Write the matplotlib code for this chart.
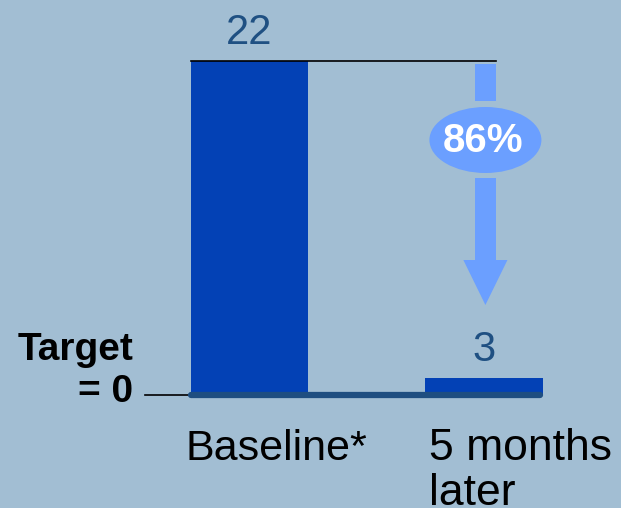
import matplotlib
matplotlib.use("Agg")
import matplotlib.pyplot as plt
from matplotlib.patches import Rectangle, Ellipse, Polygon

# Data
categories = ["Baseline*", "5 months\nlater"]
values = [22, 3]
reduction_label = "86%"
target_label = "Target\n= 0"

BG = "#A2BED3"
BAR = "#0341B5"
LABEL = "#1F5082"
ARROW = "#6B9FFF"

plt.rcParams["font.family"] = ["Liberation Sans", "DejaVu Sans"]

W, H = 621, 508
fig = plt.figure(figsize=(W / 100, H / 100), dpi=100, facecolor=BG)

# axes spans the full width; bottom edge sits on the baseline
base_px = 395
ax = fig.add_axes([0, (H - base_px) / H, 1, base_px / H])
ax.set_facecolor(BG)
x_unit = 234.5
x0 = -249.5 / x_unit
ax.set_xlim(x0, x0 + W / x_unit)
y_unit = (378 - 61) / (values[0] - values[1])
y_top = values[0] + 61 / y_unit
y_bot = values[0] - (base_px - 61) / y_unit
ax.set_ylim(y_bot, y_top)
ax.axis("off")

xs = list(range(len(values)))
ax.bar(xs, values, width=0.5, color=BAR, zorder=2)

# value labels
for x, v in zip(xs, values):
    ax.text(x, v + 17 / y_unit, str(v), ha="center", va="baseline",
            fontsize=30, color=LABEL, clip_on=False)

# reference line at the baseline value
ax.plot([-0.25, 1.053], [values[0], values[0]], color="black", lw=1.2, zorder=3)

# baseline bar and target tick
ax.plot([-0.25, 1.24], [y_bot, y_bot], color="#1F4E80", lw=4.5,
        solid_capstyle="round", clip_on=False, zorder=4)
ax.plot([-0.446, -0.25], [y_bot, y_bot], color="black", lw=1.2,
        clip_on=False, zorder=3)

# downward arrow with percentage bubble
ax_x = 1.006
shaft_w = 0.0896
head_w = 0.188


def ypx(p):
    return values[0] - (p - 61) / y_unit


ax.add_patch(Rectangle((ax_x - shaft_w / 2, ypx(101)), shaft_w, ypx(64) - ypx(101),
                       color=ARROW, lw=0, zorder=5))
ax.add_patch(Rectangle((ax_x - shaft_w / 2, ypx(261)), shaft_w, ypx(178) - ypx(261),
                       color=ARROW, lw=0, zorder=5))
ax.add_patch(Polygon([(ax_x - head_w / 2, ypx(260)), (ax_x + head_w / 2, ypx(260)),
                      (ax_x, ypx(305))], closed=True, color=ARROW, lw=0, zorder=5))
ax.add_patch(Ellipse((ax_x, ypx(140)), 112 / x_unit, 66 / y_unit,
                     color=ARROW, lw=0, zorder=5))
ax.text(ax_x - 0.01, ypx(152), reduction_label, ha="center", va="baseline",
        fontsize=29, fontweight="bold", color="white", zorder=6)

# category labels under the bars
ax.text(0.115, ypx(460), categories[0], ha="center", va="baseline",
        fontsize=31, color="black", clip_on=False)
first, second = categories[1].split("\n")
ax.text((429 - 249.5) / x_unit, ypx(460), first, ha="left", va="baseline",
        fontsize=32, color="black", clip_on=False)
ax.text((429 - 249.5) / x_unit, ypx(505), second, ha="left", va="baseline",
        fontsize=32, color="black", clip_on=False)

# target annotation
t1, t2 = target_label.split("\n")
ax.text((133 - 249.5) / x_unit, ypx(360), t1, ha="right", va="baseline",
        fontsize=28, fontweight="bold", color="black", clip_on=False)
ax.text((133 - 249.5) / x_unit, ypx(402), t2, ha="right", va="baseline",
        fontsize=28, fontweight="bold", color="black", clip_on=False)

fig.savefig("out.png", dpi=100, facecolor=BG)
